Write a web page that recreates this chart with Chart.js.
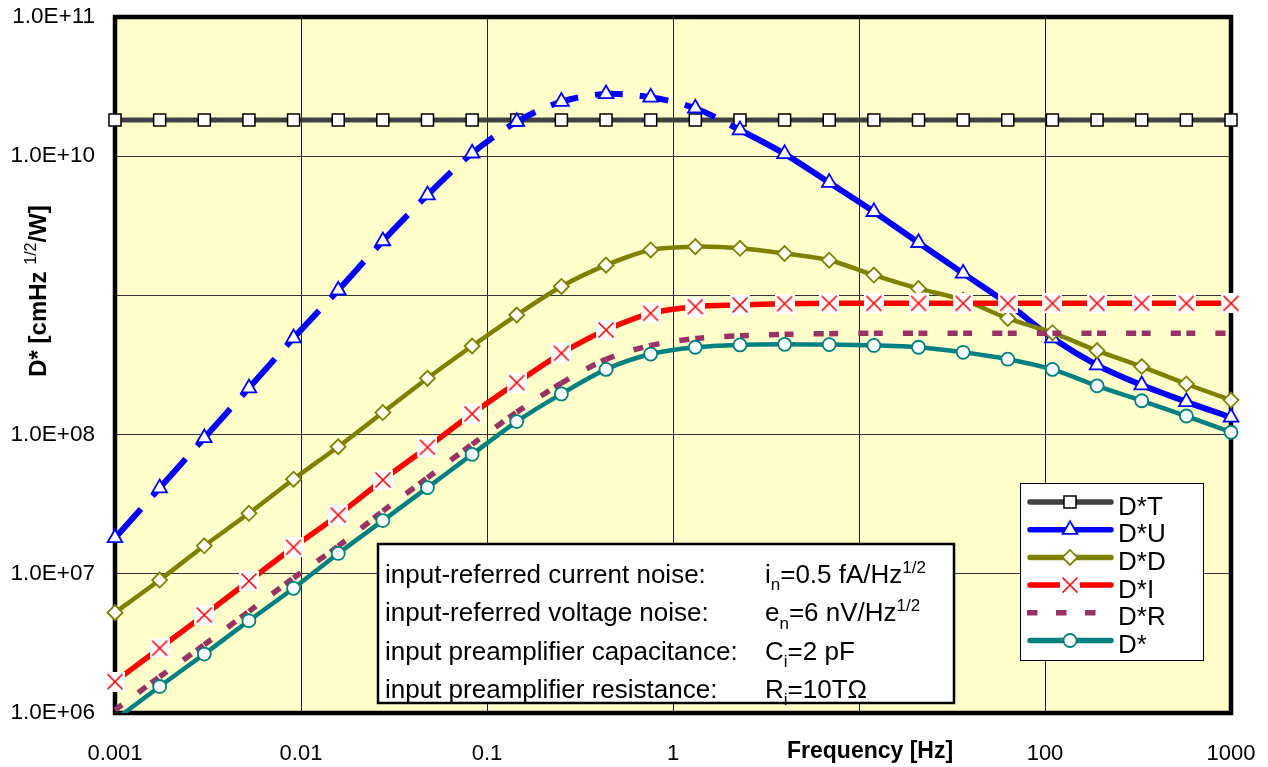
<!DOCTYPE html>
<html>
<head>
<meta charset="utf-8">
<script src="https://cdn.jsdelivr.net/npm/chart.js@4.4.1/dist/chart.umd.min.js"></script>
<style>
  html, body { margin: 0; padding: 0; background: #fff; }
  #wrap { width: 1268px; height: 767px; }
</style>
</head>
<body>
<div id="wrap"><canvas id="chart" width="1268" height="767"></canvas></div>
<script>
// frequency points [Hz]
const FREQ = [0.001, 0.001738, 0.00302, 0.005248, 0.00912, 0.01585, 0.02754, 0.04786, 0.08318, 0.1445,
  0.2512, 0.4365, 0.7586, 1.318, 2.291, 3.981, 6.918, 12.02, 20.89, 36.31,
  63.1, 109.6, 190.5, 331.1, 575.4, 1000];

// D* components [cmHz^1/2/W]
const D_T = [1.82e10, 1.82e10, 1.82e10, 1.82e10, 1.82e10, 1.82e10, 1.82e10, 1.82e10, 1.82e10, 1.82e10,
  1.82e10, 1.82e10, 1.82e10, 1.82e10, 1.82e10, 1.82e10, 1.82e10, 1.82e10, 1.82e10, 1.82e10,
  1.82e10, 1.82e10, 1.82e10, 1.82e10, 1.82e10, 1.82e10];
const D_U = [1.81e7, 4.13e7, 9.46e7, 2.16e8, 4.94e8, 1.09e9, 2.46e9, 5.26e9, 1.05e10, 1.77e10,
  2.47e10, 2.80e10, 2.65e10, 2.21e10, 1.54e10, 1.04e10, 6.46e9, 3.99e9, 2.39e9, 1.44e9,
  8.71e8, 4.94e8, 3.16e8, 2.27e8, 1.72e8, 1.33e8];
const D_D = [5.26e6, 9.02e6, 1.59e7, 2.72e7, 4.78e7, 8.18e7, 1.44e8, 2.54e8, 4.33e8, 7.23e8,
  1.16e9, 1.65e9, 2.12e9, 2.24e9, 2.18e9, 2.00e9, 1.79e9, 1.40e9, 1.12e9, 9.27e8,
  6.84e8, 5.40e8, 4.01e8, 3.08e8, 2.31e8, 1.77e8];
const D_I = [1.68e6, 2.92e6, 5.06e6, 8.87e6, 1.55e7, 2.64e7, 4.72e7, 8.11e7, 1.41e8, 2.36e8,
  3.84e8, 5.64e8, 7.43e8, 8.30e8, 8.53e8, 8.71e8, 8.77e8, 8.77e8, 8.77e8, 8.77e8,
  8.77e8, 8.77e8, 8.77e8, 8.77e8, 8.77e8, 8.77e8];
const D_R = [1.05e6, 1.82e6, 3.09e6, 5.37e6, 9.33e6, 1.58e7, 2.82e7, 4.90e7, 8.51e7, 1.45e8,
  2.34e8, 3.47e8, 4.37e8, 4.90e8, 5.13e8, 5.25e8, 5.31e8, 5.35e8, 5.35e8, 5.35e8,
  5.35e8, 5.35e8, 5.35e8, 5.35e8, 5.35e8, 5.35e8];
const D_STAR = [8.91e5, 1.55e6, 2.65e6, 4.60e6, 7.87e6, 1.40e7, 2.41e7, 4.16e7, 7.21e7, 1.24e8,
  1.96e8, 2.94e8, 3.79e8, 4.24e8, 4.41e8, 4.45e8, 4.43e8, 4.37e8, 4.24e8, 3.90e8,
  3.48e8, 2.94e8, 2.24e8, 1.75e8, 1.36e8, 1.04e8];

const SERIES_LABELS = ['D*T', 'D*U', 'D*D', 'D*I', 'D*R', 'D*'];

const X_TICKS = [0.001, 0.01, 0.1, 1, 10, 100, 1000];
const X_TICK_LABELS = ['0.001', '0.01', '0.1', '1', '', '100', '1000'];   // "10" sits under the axis title
const Y_TICKS = [1e6, 1e7, 1e8, 1e9, 1e10, 1e11];
const Y_TICK_LABELS = ['1.0E+06', '1.0E+07', '1.0E+08', '', '1.0E+10', '1.0E+11']; // 1E+09 hidden by y title

const NOTE_LABELS = ['input-referred current noise:', 'input-referred voltage noise:',
  'input preamplifier capacitance:', 'input preamplifier resistance:'];
const NOTE_VALUES = [
  [['i', ''], ['n', 'sub'], ['=0.5 fA/Hz', ''], ['1/2', 'sup']],
  [['e', ''], ['n', 'sub'], ['=6 nV/Hz', ''], ['1/2', 'sup']],
  [['C', ''], ['i', 'sub'], ['=2 pF', '']],
  [['R', ''], ['i', 'sub'], ['=10T\u03A9', '']]
];

const FONT = "'Liberation Sans', Arial, sans-serif";

// red cross marker on a white box
function crossMarker() {
  const c = document.createElement('canvas');
  c.width = 20; c.height = 20;
  const g = c.getContext('2d');
  g.fillStyle = '#fff';
  g.fillRect(0, 0, 20, 20);
  g.strokeStyle = '#ff0000';
  g.lineWidth = 1.6;
  g.beginPath();
  g.moveTo(2.5, 2.5); g.lineTo(17.5, 17.5);
  g.moveTo(17.5, 2.5); g.lineTo(2.5, 17.5);
  g.stroke();
  return c;
}
const CROSS = crossMarker();

const pts = arr => FREQ.map((f, i) => ({ x: f, y: arr[i] }));
// restart dash pattern at every data point, like the spreadsheet does
const perPoint = ctx => ctx.p0DataIndex * 0.001;
// long dash per segment: dash, gap, then a dash running into the next point
const longDash = ctx => {
  if (ctx.p0DataIndex >= 14) return [];
  const len = Math.hypot(ctx.p1.x - ctx.p0.x, ctx.p1.y - ctx.p0.y);
  return [Math.max(len - 28, 8), 17, 1000];
};

const datasets = [
  { label: SERIES_LABELS[0], data: pts(D_T), borderColor: '#404040', borderWidth: 5,
    pointStyle: 'rect', pointRadius: 8.5, pointBackgroundColor: '#fff', pointBorderColor: '#000', pointBorderWidth: 1.5, order: 6 },
  { label: SERIES_LABELS[1], data: pts(D_U), borderColor: '#0000ff', borderWidth: 6,
    pointStyle: 'triangle', pointRadius: 8.5, pointBackgroundColor: '#fff', pointBorderColor: '#0000ff', pointBorderWidth: 1.8, order: 5,
    segment: { borderDash: longDash, borderDashOffset: perPoint } },
  { label: SERIES_LABELS[2], data: pts(D_D), borderColor: '#808000', borderWidth: 4.5,
    pointStyle: 'rectRot', pointRadius: 7.5, pointBackgroundColor: '#fff', pointBorderColor: '#808000', pointBorderWidth: 1.8, order: 4 },
  { label: SERIES_LABELS[3], data: pts(D_I), borderColor: '#ff0000', borderWidth: 5.5,
    pointStyle: CROSS, pointRadius: 10, order: 3 },
  { label: SERIES_LABELS[4], data: pts(D_R), borderColor: '#993366', borderWidth: 5.5,
    pointRadius: 0, borderDash: [9, 20, 10, 6], order: 2,
    segment: { borderDashOffset: perPoint } },
  { label: SERIES_LABELS[5], data: pts(D_STAR), borderColor: '#008080', borderWidth: 4.5,
    pointStyle: 'circle', pointRadius: 6.5, pointBackgroundColor: '#fff', pointBorderColor: '#008080', pointBorderWidth: 1.8, order: 1 }
];
datasets.forEach(d => { d.tension = 0.3; d.fill = false; d.clip = { left: 12, right: 12, top: 6, bottom: 0 }; });

// yellow plot area + thick frame
const framePlugin = {
  id: 'frame',
  beforeDraw(chart) {
    const { ctx, chartArea: a } = chart;
    ctx.save();
    ctx.fillStyle = '#ffffcc';
    ctx.fillRect(a.left, a.top, a.right - a.left, a.bottom - a.top);
    ctx.restore();
  },
  beforeDatasetsDraw(chart) {
    const { ctx, chartArea: a } = chart;
    ctx.save();
    ctx.strokeStyle = '#000';
    ctx.lineWidth = 4.5;
    ctx.strokeRect(a.left, a.top, a.right - a.left, a.bottom - a.top);
    ctx.restore();
  }
};

function richText(ctx, parts, x, y, size, weight) {
  parts.forEach(([t, kind]) => {
    const s = kind ? Math.round(size * 0.66) : size;
    const dy = kind === 'sub' ? size * 0.28 : kind === 'sup' ? -size * 0.4 : 0;
    ctx.font = `${kind ? '' : weight} ${s}px ${FONT}`;
    ctx.fillText(t, x, y + dy);
    x += ctx.measureText(t).width;
  });
}

// axis titles
const titlePlugin = {
  id: 'titles',
  afterDraw(chart) {
    const { ctx } = chart;
    ctx.save();
    ctx.fillStyle = '#000';
    ctx.textBaseline = 'alphabetic';
    ctx.textAlign = 'left';
    ctx.font = `bold 23px ${FONT}`;
    ctx.fillText('Frequency [Hz]', 787, 758);

    const parts = [['D* [cmHz', ''], [' ', ''], ['1/2', 'sup'], ['/W]', '']];
    let w = 0;
    parts.forEach(([t, k]) => { ctx.font = `${k ? '' : 'bold'} ${k ? 16 : 24}px ${FONT}`; w += ctx.measureText(t).width; });
    ctx.translate(46, 291);
    ctx.rotate(-Math.PI / 2);
    richText(ctx, parts, -w / 2, 0, 24, 'bold');
    ctx.restore();
  }
};

// parameter box + legend, drawn over the curves
const boxPlugin = {
  id: 'boxes',
  afterDatasetsDraw(chart) {
    const { ctx } = chart;
    ctx.save();
    // parameters
    ctx.fillStyle = '#fff';
    ctx.fillRect(378, 544, 576, 159);
    ctx.strokeStyle = '#000';
    ctx.lineWidth = 2.5;
    ctx.strokeRect(378, 544, 576, 159);
    ctx.fillStyle = '#000';
    ctx.textBaseline = 'alphabetic';
    ctx.textAlign = 'left';
    NOTE_LABELS.forEach((t, i) => {
      const y = 583 + i * 38.3;
      ctx.font = `26px ${FONT}`;
      ctx.fillText(t, 385, y);
      richText(ctx, NOTE_VALUES[i], 765, y, 26, '');
    });

    // legend
    const L = { x: 1020, y: 483, w: 183, h: 177 };
    ctx.fillStyle = '#fff';
    ctx.fillRect(L.x, L.y, L.w, L.h);
    ctx.strokeStyle = '#000';
    ctx.lineWidth = 1;
    ctx.strokeRect(L.x + 0.5, L.y + 0.5, L.w, L.h);
    chart.data.datasets.forEach((d, i) => {
      const y = 502 + i * 27.7;
      ctx.save();
      ctx.strokeStyle = d.borderColor;
      ctx.lineWidth = 5.5;
      if (d.pointRadius === 0) {
        ctx.setLineDash([10.5, 18.5]);
        ctx.lineCap = 'butt';
        ctx.beginPath(); ctx.moveTo(1027, y); ctx.lineTo(1113, y); ctx.stroke();
      } else {
        ctx.lineCap = 'round';
        ctx.beginPath(); ctx.moveTo(1030, y); ctx.lineTo(1111, y); ctx.stroke();
        ctx.fillStyle = d.pointBackgroundColor || '#fff';
        ctx.strokeStyle = d.pointBorderColor || d.borderColor;
        ctx.lineWidth = d.pointBorderWidth || 1;
        Chart.helpers.drawPoint(ctx, { pointStyle: d.pointStyle, radius: d.pointRadius, rotation: 0, borderWidth: d.pointBorderWidth || 0 }, 1070, y);
      }
      ctx.restore();
      ctx.fillStyle = '#000';
      ctx.font = `26px ${FONT}`;
      ctx.fillText(d.label, 1118, y + 12.5);
    });
    ctx.restore();
  }
};

new Chart(document.getElementById('chart'), {
  type: 'line',
  data: { datasets },
  options: {
    responsive: false,
    animation: false,
    events: [],
    layout: { padding: { top: 17, right: 37, left: 0, bottom: 0 } },
    plugins: { legend: { display: false }, tooltip: { enabled: false } },
    scales: {
      x: {
        type: 'logarithmic', min: 0.001, max: 1000,
        afterBuildTicks: s => { s.ticks = X_TICKS.map(v => ({ value: v })); },
        afterFit: s => { s.height = 54; s.paddingLeft = 0; s.paddingRight = 0; },
        border: { display: false },
        grid: { color: '#222', lineWidth: 1, drawTicks: false },
        ticks: { color: '#000', font: { family: FONT, size: 22 }, padding: 28, maxRotation: 0, autoSkip: false,
          callback: (v, i) => X_TICK_LABELS[i] }
      },
      y: {
        type: 'logarithmic', min: 1e6, max: 1e11,
        afterBuildTicks: s => { s.ticks = Y_TICKS.map(v => ({ value: v })); },
        afterFit: s => { s.width = 115; s.paddingTop = 0; s.paddingBottom = 0; },
        border: { display: false },
        grid: { color: '#333', lineWidth: 1, drawTicks: false },
        ticks: { color: '#000', font: { family: FONT, size: 22.5 }, padding: 20, autoSkip: false,
          callback: (v, i) => Y_TICK_LABELS[i] }
      }
    }
  },
  plugins: [framePlugin, titlePlugin, boxPlugin]
});
</script>
</body>
</html>
